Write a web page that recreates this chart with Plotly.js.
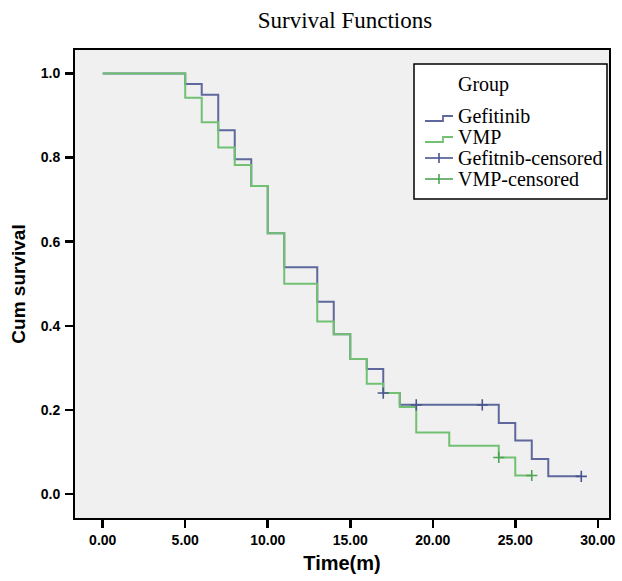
<!DOCTYPE html>
<html>
<head>
<meta charset="utf-8">
<script src="https://cdn.plot.ly/plotly-3.0.1.min.js"></script>
<style>html,body{margin:0;padding:0;background:#fff;}#chart{width:622px;height:581px;}</style>
</head>
<body>
<div id="chart"></div>
<script>
// Gefitinib Kaplan-Meier step curve
var gefTime = [0, 5, 6, 7, 8, 9, 10, 11, 13, 14, 15, 16, 17, 18, 24, 25, 26, 27, 29];
var gefSurv = [1.0, 0.975, 0.949, 0.865, 0.796, 0.732, 0.620, 0.539, 0.457, 0.380, 0.321, 0.297, 0.240, 0.212, 0.169, 0.127, 0.083, 0.042, 0.042];
// VMP Kaplan-Meier step curve
var vmpTime = [0, 5, 6, 7, 8, 9, 10, 11, 13, 14, 15, 16, 17, 18, 19, 21, 24, 25, 26];
var vmpSurv = [1.0, 0.942, 0.884, 0.824, 0.782, 0.732, 0.620, 0.500, 0.410, 0.380, 0.321, 0.262, 0.240, 0.207, 0.146, 0.115, 0.087, 0.044, 0.044];
// censored observations
var gefCensTime = [17, 19, 23, 29];
var gefCensSurv = [0.240, 0.212, 0.212, 0.042];
var vmpCensTime = [24, 26];
var vmpCensSurv = [0.087, 0.044];
// axis ticks
var xTicks = [0, 5, 10, 15, 20, 25, 30];
var yTicks = [0, 0.2, 0.4, 0.6, 0.8, 1.0];
// legend
var legendTitle = 'Group';
var legendLabels = ['Gefitinib', 'VMP', 'Gefitnib-censored', 'VMP-censored'];

var blue = '#5f689c', green = '#72c173';
var blueMark = '#4b5590', greenMark = '#4fa355';
var legendColors = [blue, green, blueMark, greenMark];
var legendKinds = ['step', 'step', 'cross', 'cross'];

var traces = [
  {x: gefTime, y: gefSurv, type: 'scatter', mode: 'lines', name: legendLabels[0], showlegend: false,
   line: {shape: 'hv', color: blue, width: 2}},
  {x: vmpTime, y: vmpSurv, type: 'scatter', mode: 'lines', name: legendLabels[1], showlegend: false,
   line: {shape: 'hv', color: green, width: 2}},
  {x: gefCensTime, y: gefCensSurv, type: 'scatter', mode: 'markers', name: legendLabels[2], showlegend: false,
   marker: {symbol: 'cross-thin', size: 8, color: blueMark, line: {width: 1.6, color: blueMark}}},
  {x: vmpCensTime, y: vmpCensSurv, type: 'scatter', mode: 'markers', name: legendLabels[3], showlegend: false,
   marker: {symbol: 'cross-thin', size: 8, color: greenMark, line: {width: 1.6, color: greenMark}}}
];

// layout geometry (pixels)
var W = 622, H = 581, mL = 75, mR = 13, mT = 50, mB = 63;
var pw = W - mL - mR, ph = H - mT - mB;
function px(x) { return (x - mL) / pw; }
function py(y) { return (H - mB - y) / ph; }

var serif = 'Liberation Serif, Times New Roman, serif';
var sans = 'Liberation Sans, Arial, sans-serif';

// legend box, texts, icons
var shapes = [{type: 'rect', xref: 'paper', yref: 'paper', x0: px(414), x1: px(607), y0: py(199), y1: py(64),
  fillcolor: '#ffffff', line: {color: '#000', width: 1.5}, layer: 'above'}];
var annotations = [{xref: 'paper', yref: 'paper', x: px(456), y: py(85), xanchor: 'left', yanchor: 'middle',
  text: legendTitle, showarrow: false, font: {family: serif, size: 20, color: '#000'}}];
var itemY = [116, 137, 158, 179];
legendLabels.forEach(function (lab, i) {
  var c = itemY[i];
  annotations.push({xref: 'paper', yref: 'paper', x: px(456), y: py(c), xanchor: 'left', yanchor: 'middle',
    text: lab, showarrow: false, font: {family: serif, size: 20, color: '#000'}});
  if (legendKinds[i] === 'step') {
    shapes.push({type: 'path', xref: 'paper', yref: 'paper', layer: 'above',
      path: 'M' + px(425) + ',' + py(c + 5) + ' L' + px(443) + ',' + py(c + 5) + ' L' + px(443) + ',' + py(c) + ' L' + px(453) + ',' + py(c),
      line: {color: legendColors[i], width: 1.8}});
  } else {
    shapes.push({type: 'line', xref: 'paper', yref: 'paper', layer: 'above', x0: px(425), x1: px(453), y0: py(c), y1: py(c),
      line: {color: legendColors[i], width: 1.6}});
    shapes.push({type: 'line', xref: 'paper', yref: 'paper', layer: 'above', x0: px(439), x1: px(439), y0: py(c - 5), y1: py(c + 5),
      line: {color: legendColors[i], width: 1.6}});
  }
});

var tickFont = {family: sans, size: 14, color: '#000', weight: 'bold'};
var layout = {
  width: W, height: H,
  margin: {l: mL, r: mR, t: mT, b: mB},
  paper_bgcolor: '#ffffff',
  plot_bgcolor: '#f0f0f0',
  showlegend: false,
  title: {text: 'Survival Functions', x: 345 / W, xanchor: 'center', y: 1 - 20 / H, yanchor: 'middle',
          font: {family: serif, size: 23, color: '#000'}},
  xaxis: {
    range: [-1.68, 30.68], tickvals: xTicks, tickformat: '.2f',
    showgrid: false, zeroline: false,
    showline: true, linecolor: '#000', linewidth: 2, mirror: true,
    ticks: 'outside', ticklen: 8, tickwidth: 2.5, tickcolor: '#000',
    tickfont: tickFont,
    title: {text: '\u00a0\u00a0\u00a0Time(m)', standoff: 9,
            font: {family: sans, size: 20, color: '#000', weight: 'bold'}}
  },
  yaxis: {
    range: [-0.057, 1.0556], tickvals: yTicks, tickformat: '.1f',
    showgrid: false, zeroline: false,
    showline: true, linecolor: '#000', linewidth: 2, mirror: true,
    ticks: 'outside', ticklen: 8, tickwidth: 2.5, tickcolor: '#000',
    tickfont: tickFont, ticklabelstandoff: 2,
    title: {text: 'Cum survival', standoff: 10,
            font: {family: sans, size: 19, color: '#000', weight: 'bold'}}
  },
  shapes: shapes,
  annotations: annotations
};
Plotly.newPlot('chart', traces, layout, {displayModeBar: false, staticPlot: true});
</script>
</body>
</html>
